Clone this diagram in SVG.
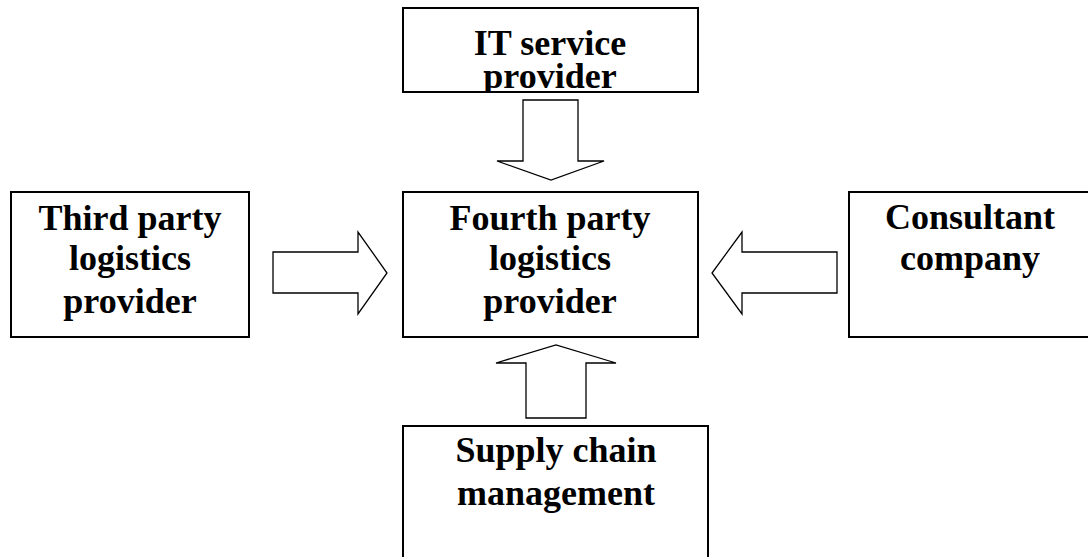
<svg xmlns="http://www.w3.org/2000/svg" width="1088" height="557" viewBox="0 0 1088 557">
<style>
.box{fill:#fff;stroke:#000;stroke-width:2}
.arr{fill:#fff;stroke:#000;stroke-width:1.3;stroke-linejoin:miter}
.t{font-family:"Liberation Serif","Times New Roman",serif;font-weight:bold;font-size:36px;text-anchor:middle;fill:#000}
</style>
<defs>
<clipPath id="clipTop"><rect x="403" y="8" width="295" height="84"/></clipPath>
</defs>
<rect width="1088" height="557" fill="#fff"/>
<g id="connectors">
<polygon class="arr" points="523,100 578,100 578,161 604,161 551,180 497,161 523,161"/>
<polygon class="arr" points="273,252 358,252 358,232 387,273 358,314 358,293 273,293"/>
<polygon class="arr" points="837,252 742,252 742,232 712,273 742,314 742,293 837,293"/>
<polygon class="arr" points="526,418 586,418 586,363 616,363 556,345 496,363 526,363"/>
</g>
<g id="it-service-provider">
<rect class="box" x="403" y="8" width="295" height="84"/>
<g clip-path="url(#clipTop)">
<text class="t" x="550" y="55">IT service</text>
<text class="t" x="550" y="88">provider</text>
</g>
<rect x="403" y="8" width="295" height="84" fill="none" stroke="#000" stroke-width="2"/>
</g>
<g id="third-party">
<rect class="box" x="11" y="192" width="238" height="145"/>
<text class="t" x="130" y="230">Third party</text>
<text class="t" x="130" y="270">logistics</text>
<text class="t" x="130" y="313">provider</text>
</g>
<g id="fourth-party">
<rect class="box" x="403" y="192" width="295" height="145"/>
<text class="t" x="550" y="230">Fourth party</text>
<text class="t" x="550" y="270">logistics</text>
<text class="t" x="550" y="313">provider</text>
</g>
<g id="consultant">
<rect class="box" x="849" y="192" width="245" height="145"/>
<text class="t" x="970" y="229">Consultant</text>
<text class="t" x="970" y="270">company</text>
</g>
<g id="supply-chain">
<rect class="box" x="403" y="426" width="305" height="140"/>
<text class="t" x="556" y="462">Supply chain</text>
<text class="t" x="556" y="505">management</text>
</g>
</svg>
